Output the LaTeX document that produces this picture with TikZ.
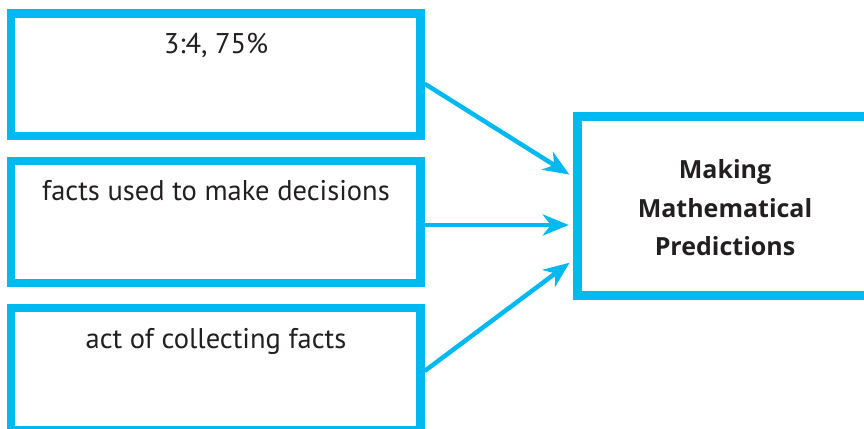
\documentclass[tikz,border=0pt]{standalone}
\usepackage{fontspec}
\setmainfont{PT Sans}
\newfontfamily\titlefont{Open Sans}
\usetikzlibrary{arrows.meta}
\definecolor{boxcyan}{RGB}{0,185,241}
\definecolor{txt}{RGB}{35,31,32}
\begin{document}
\begin{tikzpicture}[x=1pt,y=-1pt,
  srcbox/.style={draw=boxcyan,line width=8.3pt,minimum width=409.5pt,minimum height=122.5pt,inner sep=0pt},
  tgtbox/.style={draw=boxcyan,line width=8.5pt,minimum width=292.5pt,minimum height=179pt,inner sep=0pt},
  lbl/.style={anchor=base,font=\fontsize{28.5}{34}\selectfont,text=txt,inner sep=0pt},
  arr/.style={draw=boxcyan,line width=4.5pt,-{Stealth[length=26pt,width=21pt,inset=8pt]},shorten >=4.5pt}]
\useasboundingbox (0,0) rectangle (864,428);
\clip (0,0) rectangle (864,428);
\node[srcbox] (b1) at (215.75,74.75) {};
\node[srcbox] (b2) at (215.75,222) {};
\node[srcbox] (b3) at (215.75,369) {};
\node[tgtbox] (m) at (723.75,206) {};
\node[lbl] (t1) at (216,53) {3:4, 75\%};
\node[lbl] (t2) at (216,200) {facts used to make decisions};
\node[lbl] (t3) at (216,348) {act of collecting facts};
\node[font=\titlefont\bfseries\fontsize{25}{38.5}\selectfont,text=txt,align=center,inner sep=0pt] (mt) at (725,208) {Making\\Mathematical\\Predictions};
\draw[arr] ([yshift=-9pt]b1.east) -- ([yshift=29pt]m.west);
\draw[arr] ([yshift=-3pt]b2.east) -- ([yshift=-19pt]m.west);
\draw[arr] ([yshift=-2pt]b3.east) -- ([yshift=-54pt]m.west);
\end{tikzpicture}
\end{document}
